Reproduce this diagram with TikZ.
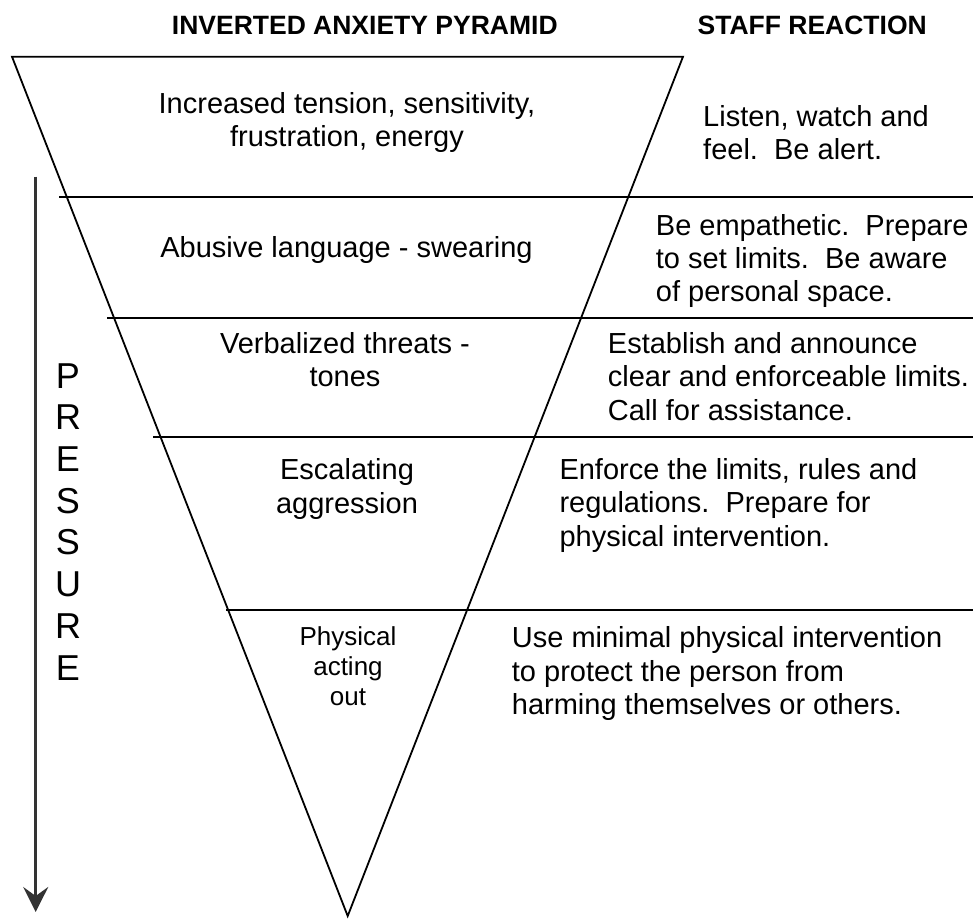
\documentclass[tikz,border=0pt]{standalone}
\usepackage{fontspec}
\setmainfont{Liberation Sans}
\usetikzlibrary{arrows.meta}
\definecolor{arrowgray}{HTML}{333333}
\begin{document}
\begin{tikzpicture}[x=1pt,y=-1pt,
  edge/.style={line width=1.8pt, line join=miter},
  band/.style={line width=2pt},
  body/.style={inner sep=0pt, font=\fontsize{29}{33.2}\selectfont},
  lefttxt/.style={body, align=center, anchor=base},
  righttxt/.style={body, align=left, anchor=base west},
  heading/.style={inner sep=0pt, font=\bfseries\fontsize{26.5}{30}\selectfont},
  pressure/.style={inner sep=0pt, align=center, anchor=base, font=\fontsize{36}{41.7}\selectfont},
  pointer/.style={line width=3pt, draw=arrowgray, -{Stealth[length=25pt,width=25pt,inset=9pt]}}
]
\useasboundingbox (0,0) rectangle (976,920);

% pyramid
\coordinate (tl) at (12,56.7);
\coordinate (tr) at (683,56.7);
\coordinate (ap) at (347.7,916);
\draw[edge] (tl) -- (tr) -- (ap) -- cycle;

% band lines
\coordinate (b1l) at (59.3,196.7);  \coordinate (b1r) at (972.7,196.7);
\coordinate (b2l) at (107.3,317.5); \coordinate (b2r) at (972.7,317.5);
\coordinate (b3l) at (153,437);     \coordinate (b3r) at (972.7,437);
\coordinate (b4l) at (226,610);     \coordinate (b4r) at (972.7,610);
\draw[band] (b1l) -- (b1r);
\draw[band] (b2l) -- (b2r);
\draw[band] (b3l) -- (b3r);
\draw[band] (b4l) -- (b4r);

% pressure arrow (base anchor = last line baseline)
\coordinate (arT) at (35.7,176.7);
\coordinate (arB) at (35.7,912);
\draw[pointer] (arT) -- (arB);
\node[pressure] (pr) at (68,680) {P\\R\\E\\S\\S\\U\\R\\E};

% headings
\node[heading, anchor=base west] (h1) at (171.7,34.3) {INVERTED ANXIETY PYRAMID};
\node[heading, anchor=base east] (h2) at (927,34.3) {STAFF REACTION};

% left column (base anchor = last line baseline)
\node[lefttxt] (l1) at (347,146.7) {Increased tension, sensitivity,\\frustration, energy};
\node[lefttxt] (l2) at (346.5,257.7) {Abusive language - swearing};
\node[lefttxt] (l3) at (345,386.3) {Verbalized threats -\\tones};
\node[lefttxt] (l4) at (347,513) {Escalating\\aggression};
\node[lefttxt, font=\fontsize{26}{30}\selectfont] (l5) at (348,705) {Physical\\acting\\out};

% right column (base anchor = last line baseline)
\node[righttxt] (r1) at (703,159.5) {Listen, watch and\\feel.\ \ Be alert.};
\node[righttxt] (r2) at (655.7,301.7) {Be empathetic.\ \ Prepare\\to set limits.\ \ Be aware\\of personal space.};
\node[righttxt] (r3) at (607.7,420) {Establish and announce\\clear and enforceable limits.\\Call for assistance.};
\node[righttxt] (r4) at (559.3,546) {Enforce the limits, rules and\\regulations.\ \ Prepare for\\physical intervention.};
\node[righttxt] (r5) at (511.7,714.3) {Use minimal physical intervention\\to protect the person from\\harming themselves or others.};
\end{tikzpicture}
\end{document}
